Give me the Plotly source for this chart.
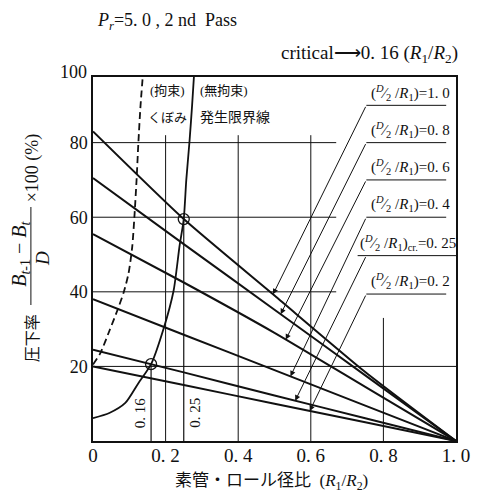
import numpy as np
import plotly.graph_objects as go

# ---------------- data ----------------
ratio = [0.0, 0.25, 0.5, 0.75, 1.0]                 # R1/R2
red_10 = [83.0, 59.5, 39.0, 18.5, 0.0]              # (D/2/R1)=1.0
red_08 = [70.5, 52.8, 35.2, 17.6, 0.0]              # 0.8
red_06 = [55.5, 42.5, 29.0, 14.5, 0.0]              # 0.6
red_04 = [38.0, 28.5, 19.0, 9.5, 0.0]               # 0.4
red_025 = [24.5, 18.4, 12.2, 6.1, 0.0]              # 0.25 (critical)
red_02 = [20.0, 15.0, 10.0, 5.0, 0.0]               # 0.2
series = [red_10, red_08, red_06, red_04, red_025, red_02]
FR = "(<sup><i>D</i></sup>⁄<sub>2</sub> /<i>R</i><sub>1</sub>)"
series_labels = [
    FR + "=1. 0",
    FR + "=0. 8",
    FR + "=0. 6",
    FR + "=0. 4",
    FR + "<sub>cr.</sub>=0. 25",
    FR + "=0. 2",
]

# dent limit curve, constrained (dashed)
con_x = [0.0, 0.02, 0.045, 0.067, 0.085, 0.098, 0.108, 0.114, 0.12, 0.125, 0.131, 0.137]
con_y = [20.5, 23.5, 29.5, 35.0, 40.0, 45.0, 52.0, 60.0, 70.0, 80.0, 90.0, 97.6]
# dent limit curve, unconstrained (solid)
free_x = [0.0, 0.045, 0.089, 0.125, 0.16, 0.195, 0.222, 0.231, 0.238, 0.25, 0.257, 0.266, 0.273, 0.278]
free_y = [6.1, 7.5, 10.2, 15.5, 20.6, 30.3, 40.3, 46.5, 52.0, 59.5, 70.0, 80.5, 90.0, 97.6]

# critical points
crit_x = [0.16, 0.25]
crit_labels = ["0. 16", "0. 25"]

x_ticks = [0, 0.2, 0.4, 0.6, 0.8, 1.0]
x_ticktext = ["0", "0. 2", "0. 4", "0. 6", "0. 8", "1. 0"]
y_ticks = [20, 40, 60, 80]
y_ticktext = ["20", "40", "60", "80"]

# ---------------- layout helpers ----------------
OFF = 8                      # default body margin of the html page
W, H = 482 - OFF, 498 - OFF
L, R, T, B = 93 - OFF, 12, 77 - OFF, 57
PW, PH = W - L - R, H - T - B
Y_TOP = 97.6


def px(xp):                  # reference-image pixel -> paper x
    return (xp - OFF - L) / PW


def py(yp):                  # reference-image pixel -> paper y
    return (H - B - (yp - OFF)) / PH


SERIF = "Liberation Serif, Noto Sans CJK JP, serif"
JP = "Liberation Serif, Noto Sans CJK JP, sans-serif"
BLACK = "#111111"

fig = go.Figure()

for s in series:
    fig.add_trace(go.Scatter(x=ratio, y=s, mode="lines",
                             line=dict(color=BLACK, width=2, shape="spline", smoothing=0.6),
                             showlegend=False, hoverinfo="skip"))

fig.add_trace(go.Scatter(x=con_x, y=con_y, mode="lines",
                         line=dict(color=BLACK, width=1.8, dash="7px,4px", shape="spline", smoothing=0.7),
                         showlegend=False, hoverinfo="skip"))
fig.add_trace(go.Scatter(x=free_x, y=free_y, mode="lines",
                         line=dict(color=BLACK, width=1.8, shape="spline", smoothing=0.7),
                         showlegend=False, hoverinfo="skip"))

crit_y = [float(np.interp(crit_x[0], ratio, red_025)), float(np.interp(crit_x[1], ratio, red_10))]
fig.add_trace(go.Scatter(x=crit_x, y=crit_y, mode="markers",
                         marker=dict(symbol="circle-open", size=11, color=BLACK, line=dict(width=1.3)),
                         showlegend=False, hoverinfo="skip"))

shapes = []
# horizontal grid lines
for yv, x1 in [(20, 1.0), (40, 0.67), (60, 0.67), (80, 0.67)]:
    shapes.append(dict(type="line", xref="x", yref="y", x0=0, x1=x1, y0=yv, y1=yv,
                       line=dict(color=BLACK, width=1)))
# vertical grid lines
for xv, y1 in [(0.2, 82), (0.4, 82), (0.6, 82), (0.8, 33)]:
    shapes.append(dict(type="line", xref="x", yref="y", x0=xv, x1=xv, y0=0, y1=y1,
                       line=dict(color=BLACK, width=1)))
# critical verticals
for cx, cy in zip(crit_x, crit_y):
    shapes.append(dict(type="line", xref="x", yref="y", x0=cx, x1=cx, y0=0, y1=cy,
                       line=dict(color=BLACK, width=1.2)))

annotations = []
# label underlines, leaders & text
under_y = [90, 80, 70, 60, 49.7, 39.4]
tip_x = [0.496, 0.517, 0.531, 0.544, 0.557, 0.597]
for i, (s, lab) in enumerate(zip(series, series_labels)):
    uy = under_y[i]
    x0 = 0.729 if i == 4 else 0.753
    x1 = 1.0 if i == 4 else 0.973
    shapes.append(dict(type="line", xref="x", yref="y", x0=x0, x1=x1, y0=uy, y1=uy,
                       line=dict(color=BLACK, width=1)))
    ty = float(np.interp(tip_x[i], ratio, s))
    annotations.append(dict(x=tip_x[i], y=ty, xref="x", yref="y",
                            ax=0.753, ay=uy, axref="x", ayref="y", text="",
                            showarrow=True, arrowhead=2, arrowsize=1.1, arrowwidth=1,
                            arrowcolor=BLACK, standoff=0))
    annotations.append(dict(x=0.875 if i != 4 else 0.868, y=uy + 0.2, xref="x", yref="y",
                            text=lab, showarrow=False, xanchor="center", yanchor="bottom",
                            font=dict(family=SERIF, size=15, color=BLACK)))

# text in plot
annotations += [
    dict(x=0.204, y=94.0, xref="x", yref="y", text="(拘束)", showarrow=False,
         font=dict(family=JP, size=13, color=BLACK)),
    dict(x=0.36, y=94.0, xref="x", yref="y", text="(無拘束)", showarrow=False,
         font=dict(family=JP, size=13, color=BLACK)),
    dict(x=0.204, y=86.7, xref="x", yref="y", text="くぼみ", showarrow=False,
         font=dict(family=JP, size=13, color=BLACK)),
    dict(x=0.39, y=86.7, xref="x", yref="y", text="発生限界線", showarrow=False,
         font=dict(family=JP, size=14, color=BLACK)),
]
for cx, lab, off in zip(crit_x, crit_labels, [-0.03, 0.03]):
    annotations.append(dict(x=cx + off, y=7.5, xref="x", yref="y", text=lab, showarrow=False,
                            textangle=-90, font=dict(family=SERIF, size=15, color=BLACK)))

# titles
annotations += [
    dict(x=px(95), y=py(21), xref="paper", yref="paper", xanchor="left", yanchor="middle",
         text="<i>P</i><sub><i>r</i></sub>=5. 0 , 2 nd  Pass", showarrow=False,
         font=dict(family=SERIF, size=18, color=BLACK)),
    dict(x=px(474), y=py(54), xref="paper", yref="paper", xanchor="right", yanchor="middle",
         text="critical⟶0. 16 (<i>R</i><sub>1</sub>/<i>R</i><sub>2</sub>)", showarrow=False,
         font=dict(family=SERIF, size=19, color=BLACK)),
    dict(x=px(89), y=py(72), xref="paper", yref="paper", xanchor="right", yanchor="middle",
         text="100", showarrow=False, font=dict(family=SERIF, size=18, color=BLACK)),
    dict(x=px(278), y=py(482), xref="paper", yref="paper", xanchor="center", yanchor="middle",
         text="素管・ロール径比  (<i>R</i><sub>1</sub>/<i>R</i><sub>2</sub>)", showarrow=False,
         font=dict(family=JP, size=17, color=BLACK)),
    # y-axis title pieces (rotated)
    dict(x=px(30), y=py(338), xref="paper", yref="paper", xanchor="center", yanchor="middle",
         text="圧下率", showarrow=False,
         textangle=-90, font=dict(family=JP, size=16, color=BLACK)),
    dict(x=px(17), y=py(254), xref="paper", yref="paper", xanchor="center", yanchor="middle",
         text="<i>B</i><sub><i>t</i>-1</sub> − <i>B</i><sub><i>t</i></sub>", showarrow=False,
         textangle=-90, font=dict(family=SERIF, size=20, color=BLACK)),
    dict(x=px(40), y=py(258), xref="paper", yref="paper", xanchor="center", yanchor="middle",
         text="<i>D</i>", showarrow=False,
         textangle=-90, font=dict(family=SERIF, size=19, color=BLACK)),
    dict(x=px(30), y=py(168), xref="paper", yref="paper", xanchor="center", yanchor="middle",
         text="×100 (%)", showarrow=False,
         textangle=-90, font=dict(family=SERIF, size=18, color=BLACK)),
]
shapes.append(dict(type="line", xref="paper", yref="paper", x0=px(28.5), x1=px(28.5),
                   y0=py(207), y1=py(305), line=dict(color=BLACK, width=1)))

fig.update_layout(
    width=W, height=H,
    margin=dict(l=L, r=R, t=T, b=B),
    paper_bgcolor="white", plot_bgcolor="white",
    showlegend=False,
    shapes=shapes, annotations=annotations,
    xaxis=dict(range=[0, 1.0], tickvals=x_ticks, ticktext=x_ticktext, showgrid=False,
               zeroline=False, showline=True, linecolor=BLACK, linewidth=1.5, mirror=True,
               ticks="", ticklabeloverflow="allow", ticklabelstandoff=-4,
               tickfont=dict(family=SERIF, size=19, color=BLACK)),
    yaxis=dict(range=[0, Y_TOP], tickvals=y_ticks, ticktext=y_ticktext, showgrid=False,
               zeroline=False, showline=True, linecolor=BLACK, linewidth=1.5, mirror=True,
               ticks="", tickfont=dict(family=SERIF, size=18, color=BLACK)),
)

fig.write_html("out.html")
